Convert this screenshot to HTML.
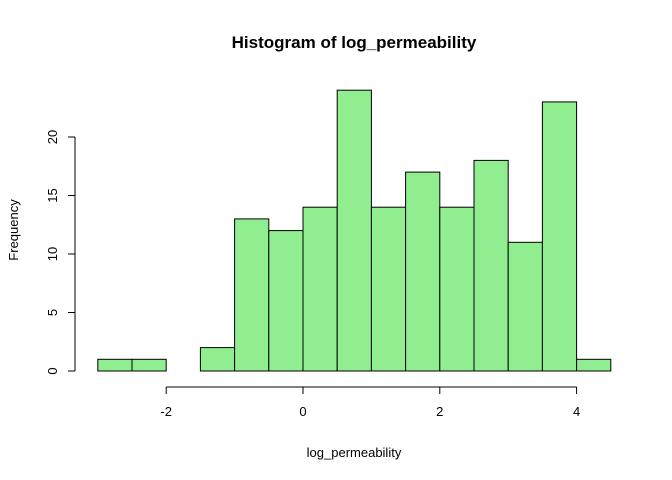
<!DOCTYPE html>
<html><head><meta charset="utf-8"><style>body{margin:0;background:#fff}svg{display:block;font-family:"Liberation Sans",Arial,sans-serif}</style></head>
<body>
<svg width="672" height="480" viewBox="0 0 672 480" xmlns="http://www.w3.org/2000/svg">
<text x="354" y="48" text-anchor="middle" font-size="17" font-weight="bold">Histogram of log_permeability</text>
<text x="354" y="457" text-anchor="middle" font-size="13">log_permeability</text>
<text transform="translate(18,230) rotate(-90)" text-anchor="middle" font-size="13">Frequency</text>
<g id="bars"></g><g id="axes"></g>
</svg>
<script>
const binStarts=[-3,-2.5,-2,-1.5,-1,-0.5,0,0.5,1,1.5,2,2.5,3,3.5,4];
const counts=[1,1,0,2,13,12,14,24,14,17,14,18,11,23,1];
const binWidth=0.5;
const xTicks=[-2,0,2,4];
const yTicks=[0,5,10,15,20];
const NS="http://www.w3.org/2000/svg";
const x=v=>303+(v)*68.4;
const y=v=>371-v*11.7;
const bars=document.getElementById('bars'),axes=document.getElementById('axes');
function mk(t,a,p){const e=document.createElementNS(NS,t);for(const k in a)e.setAttribute(k,a[k]);p.appendChild(e);return e;}
binStarts.forEach((s,i)=>{
 const r=mk('rect',{x:x(s),y:y(counts[i]),width:x(s+binWidth)-x(s),height:y(0)-y(counts[i]),fill:'#90ee90',stroke:'#000','stroke-width':1},bars);
 
 
});
const xa=mk('line',{x1:x(xTicks[0]),x2:x(xTicks[xTicks.length-1]),y1:387,y2:387,stroke:'#000'},axes);


xTicks.forEach(t=>{mk('line',{x1:x(t),x2:x(t),y1:387,y2:394,stroke:'#000'},axes);
 const l=mk('text',{x:x(t),y:416,'text-anchor':'middle','font-size':13},axes);l.textContent=t;
 
 });
const ya=mk('line',{x1:75,x2:75,y1:y(yTicks[0]),y2:y(yTicks[yTicks.length-1]),stroke:'#000'},axes);


yTicks.forEach(t=>{mk('line',{x1:68,x2:75,y1:y(t),y2:y(t),stroke:'#000'},axes);
 const l=mk('text',{transform:`translate(57,${y(t)}) rotate(-90)`,'text-anchor':'middle','font-size':13},axes);l.textContent=t;
 
 });
</script>
</body></html>
